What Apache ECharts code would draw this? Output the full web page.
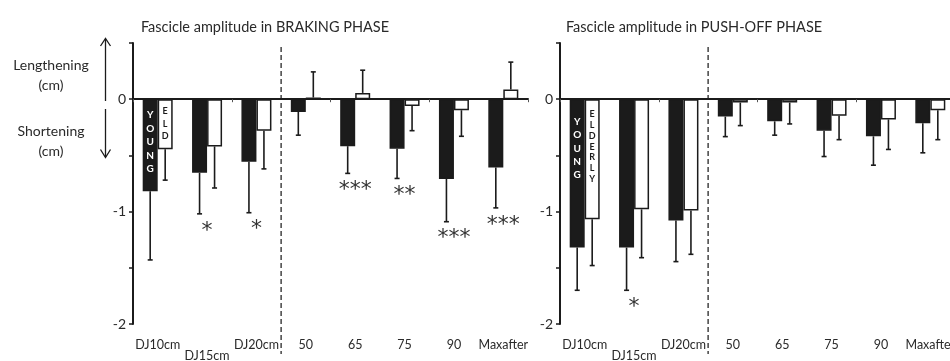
<!DOCTYPE html>
<html>
<head>
<meta charset="utf-8">
<script src="https://cdn.jsdelivr.net/npm/echarts@6/dist/echarts.min.js"></script>
<style>
  html, body { margin: 0; padding: 0; background: #fff; }
  #chart { width: 950px; height: 361px; }
</style>
</head>
<body>
<div id="chart"></div>
<script>
// Fascicle amplitude (cm): group means and SD, young vs elderly
const categories = ['DJ10cm', 'DJ15cm', 'DJ20cm', '50', '65', '75', '90', 'Maxafter'];

const brakingYoung      = [-0.82, -0.655, -0.557, -0.113, -0.418, -0.44, -0.71, -0.607];
const brakingYoungSD    = [0.61, 0.365, 0.453, 0.207, 0.242, 0.265, 0.38, 0.36];
const brakingElderly    = [-0.445, -0.42, -0.28, 0.015, 0.056, -0.06, -0.098, 0.086];
const brakingElderlySD  = [0.275, 0.37, 0.34, 0.228, 0.202, 0.22, 0.232, 0.244];
const brakingStars      = ['', '*', '*', '', '***', '**', '***', '***'];

const pushYoung         = [-1.32, -1.32, -1.08, -0.155, -0.197, -0.28, -0.33, -0.215];
const pushYoungSD       = [0.38, 0.38, 0.365, 0.178, 0.123, 0.23, 0.257, 0.262];
const pushElderly       = [-1.067, -0.98, -0.99, -0.03, -0.03, -0.148, -0.18, -0.098];
const pushElderlySD     = [0.413, 0.43, 0.39, 0.205, 0.19, 0.212, 0.267, 0.262];
const pushStars         = ['', '*', '', '', '', '', '', ''];

const yTickValues = [0.5, 0, -0.5, -1, -1.5, -2];

const FONT = 'Lato, "Open Sans", sans-serif';
const INK = '#1b1b1b';
const TEXT = '#2a2a2a';
const BAR_W = 15;
const CAP = 2.5;

const chart = echarts.init(document.getElementById('chart'), null, { renderer: 'canvas' });

function errEnd(m, sd) { return m >= 0 ? m + sd : m - sd; }

function errorSeries(xi, yi, means, sds, side) {
  return {
    type: 'custom',
    xAxisIndex: xi, yAxisIndex: yi,
    silent: true, z: 3,
    encode: { x: 0, y: 1 },
    data: means.map((m, i) => [i, m, sds[i]]),
    renderItem: function (params, api) {
      const i = api.value(0), m = api.value(1), sd = api.value(2);
      const p0 = api.coord([i, m]);
      const p1 = api.coord([i, errEnd(m, sd)]);
      const x = p0[0] + side * BAR_W / 2;
      const st = { stroke: INK, lineWidth: 1.6 };
      return {
        type: 'group',
        children: [
          { type: 'line', shape: { x1: x, y1: p0[1], x2: x, y2: p1[1] }, style: st },
          { type: 'line', shape: { x1: x - CAP, y1: p1[1], x2: x + CAP, y2: p1[1] }, style: st }
        ]
      };
    }
  };
}

function starSeries(xi, yi, young, youngSD, elderly, elderlySD, stars) {
  return {
    type: 'custom',
    xAxisIndex: xi, yAxisIndex: yi,
    silent: true, z: 4,
    encode: { x: 0, y: 1 },
    data: young.map((m, i) => [i, Math.min(errEnd(m, youngSD[i]), errEnd(elderly[i], elderlySD[i]))]),
    renderItem: function (params, api) {
      const i = api.value(0);
      const p = api.coord([i, api.value(1)]);
      return {
        type: 'text',
        x: p[0], y: p[1] + 6,
        style: {
          text: stars[params.dataIndex],
          fontFamily: '"DejaVu Sans"', fontSize: 22,
          fill: '#333', align: 'center', verticalAlign: 'top'
        }
      };
    }
  };
}

function barSeries(xi, yi, values, dark, letters, labelOpt) {
  return {
    type: 'bar',
    xAxisIndex: xi, yAxisIndex: yi,
    data: values,
    barWidth: BAR_W,
    barGap: '0%',
    z: 2,
    itemStyle: { color: dark ? INK : '#fff', borderColor: INK, borderWidth: 1.5 },
    label: Object.assign({
      show: true,
      position: 'insideTop',
      formatter: p => p.dataIndex === 0 ? letters.split('').join('\n') : '',
      fontFamily: FONT,
      fontWeight: 'bold',
      color: dark ? '#fff' : INK
    }, labelOpt)
  };
}

function zeroAxis(gi) {
  return {
    type: 'category', gridIndex: gi, data: categories,
    axisLine: { onZero: true, lineStyle: { color: INK, width: 2 } },
    axisTick: { show: true, length: 3, lineStyle: { color: '#555', width: 1 } },
    axisLabel: { show: false },
    splitLine: { show: false }
  };
}

function labelAxis(gi) {
  return {
    type: 'category', gridIndex: gi, data: categories, position: 'bottom',
    axisLine: { show: false, onZero: false },
    axisTick: { show: false },
    axisLabel: {
      interval: 0,
      hideOverlap: false,
      margin: 14,
      fontFamily: FONT, fontSize: 12.5, color: TEXT,
      formatter: (v, i) => i === 1 ? '{low|' + v + '}' : v,
      rich: { low: { fontFamily: FONT, fontSize: 12.5, color: TEXT, padding: [11, 0, 0, 0] } }
    }
  };
}

function valueAxis(gi) {
  return {
    type: 'value', gridIndex: gi,
    min: yTickValues[yTickValues.length - 1], max: yTickValues[0], interval: 0.5,
    axisLine: { show: true, lineStyle: { color: INK, width: 2 } },
    axisTick: { show: true, length: 4, lineStyle: { color: INK, width: 1.5 } },
    axisLabel: {
      margin: 7,
      fontFamily: FONT, fontSize: 14, color: TEXT,
      padding: [7, 0, 0, 0],
      formatter: v => Number.isInteger(v) ? String(v) : ''
    },
    splitLine: { show: false }
  };
}

chart.setOption({
  animation: false,
  backgroundColor: '#fff',
  title: [
    { text: 'Fascicle amplitude in BRAKING PHASE', left: 260, top: 15, textAlign: 'center',
      textStyle: { fontFamily: FONT, fontSize: 14.5, fontWeight: 'normal', color: TEXT } },
    { text: 'Fascicle amplitude in PUSH-OFF PHASE', left: 689, top: 15, textAlign: 'center',
      textStyle: { fontFamily: FONT, fontSize: 14.5, fontWeight: 'normal', color: TEXT } }
  ],
  grid: [
    { left: 133, top: 43, width: 395, height: 281, containLabel: false, outerBoundsMode: 'none' },
    { left: 560, top: 43, width: 395, height: 281, containLabel: false, outerBoundsMode: 'none' }
  ],
  xAxis: [zeroAxis(0), labelAxis(0), zeroAxis(1), labelAxis(1)],
  yAxis: [valueAxis(0), valueAxis(1)],
  series: [
    barSeries(0, 0, brakingYoung, true, 'YOUNG', { distance: 9, fontSize: 10, lineHeight: 13.5 }),
    barSeries(0, 0, brakingElderly, false, 'ELD', { distance: 6, fontSize: 9, lineHeight: 12.5 }),
    errorSeries(0, 0, brakingYoung, brakingYoungSD, -1),
    errorSeries(0, 0, brakingElderly, brakingElderlySD, 1),
    starSeries(0, 0, brakingYoung, brakingYoungSD, brakingElderly, brakingElderlySD, brakingStars),

    barSeries(2, 1, pushYoung, true, 'YOUNG', { distance: 16, fontSize: 10, lineHeight: 13.3 }),
    barSeries(2, 1, pushElderly, false, 'ELDERLY', { distance: 10, fontSize: 9, lineHeight: 10.7 }),
    errorSeries(2, 1, pushYoung, pushYoungSD, -1),
    errorSeries(2, 1, pushElderly, pushElderlySD, 1),
    starSeries(2, 1, pushYoung, pushYoungSD, pushElderly, pushElderlySD, pushStars)
  ]
});

// Dashed separators between the drop-jump and the hop conditions
function boundaryX(xAxisIndex) {
  const a = chart.convertToPixel({ xAxisIndex: xAxisIndex }, 2);
  const b = chart.convertToPixel({ xAxisIndex: xAxisIndex }, 3);
  return (a + b) / 2;
}
const dash = { stroke: '#444', lineWidth: 1.5, lineDash: [5, 3] };
const arrowStyle = { stroke: INK, lineWidth: 1.3, fill: null };
const nameStyle = { fontFamily: FONT, fontSize: 14, fill: TEXT, align: 'center', verticalAlign: 'middle' };

chart.setOption({
  graphic: [
    { type: 'line', shape: { x1: boundaryX(0), y1: 47, x2: boundaryX(0), y2: 354 }, style: dash, silent: true },
    { type: 'line', shape: { x1: boundaryX(2), y1: 47, x2: boundaryX(2), y2: 354 }, style: dash, silent: true },

    { type: 'text', x: 51, y: 65, style: Object.assign({ text: 'Lengthening' }, nameStyle) },
    { type: 'text', x: 51, y: 85, style: Object.assign({ text: '(cm)' }, nameStyle) },
    { type: 'text', x: 51, y: 131, style: Object.assign({ text: 'Shortening' }, nameStyle) },
    { type: 'text', x: 51, y: 151, style: Object.assign({ text: '(cm)' }, nameStyle) },

    { type: 'line', shape: { x1: 105.5, y1: 39, x2: 105.5, y2: 101 }, style: arrowStyle },
    { type: 'polyline', shape: { points: [[100.5, 46], [105.5, 38.5], [110.5, 46]] }, style: arrowStyle },
    { type: 'line', shape: { x1: 105.5, y1: 109, x2: 105.5, y2: 157 }, style: arrowStyle },
    { type: 'polyline', shape: { points: [[100.5, 149.5], [105.5, 157.5], [110.5, 149.5]] }, style: arrowStyle }
  ]
});
</script>
</body>
</html>
